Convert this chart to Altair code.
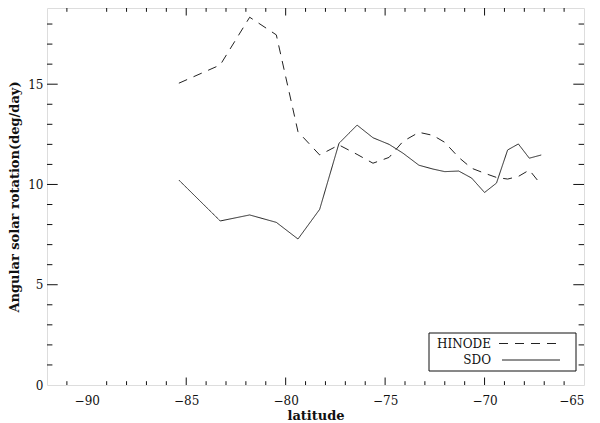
import altair as alt
import pandas as pd

# ---- data ----
latitude = [-85.37, -83.29, -81.81, -80.47, -79.38, -78.29, -77.32, -76.41, -75.61, -74.8,
            -74.1, -73.3, -72.6, -72.0, -71.3, -70.65, -70.0, -69.4, -68.84, -68.3, -67.75, -67.15]
hinode = [15.05, 15.96, 18.34, 17.46, 12.63, 11.47, 11.97, 11.5, 11.06, 11.35,
          12.15, 12.6, 12.45, 12.1, 11.35, 10.81, 10.56, 10.35, 10.27, 10.4, 10.72, 9.98]
sdo = [10.22, 8.18, 8.48, 8.11, 7.28, 8.76, 12.05, 12.96, 12.33, 12.0,
       11.56, 10.96, 10.77, 10.64, 10.67, 10.32, 9.6, 10.07, 11.72, 12.02, 11.31, 11.47]
series_names = ["HINODE", "SDO"]

x_major = [-90, -85, -80, -75, -70, -65]
x_minor = [v for v in range(-91, -65) if v % 5 != 0]
y_major = [0, 5, 10, 15]
y_minor = [v for v in range(1, 19) if v % 5 != 0]

W, H = 537, 377
FONT = "DejaVu Serif"
INK = "#111111"

n = len(latitude)
df = pd.DataFrame({
    "lat": latitude * 2,
    "rot": hinode + sdo,
    "series": [series_names[0]] * n + [series_names[1]] * n,
})

xs = alt.Scale(domain=[-92, -65], nice=False, zero=False)
ys = alt.Scale(domain=[0, 18.8], nice=False, zero=False)

x_axis = alt.Axis(values=x_major, ticks=False, tickSize=0, domain=False, grid=False,
                  title="latitude", labelFont=FONT, labelFontSize=12, labelColor=INK,
                  labelPadding=10, titleFont=FONT, titleFontSize=13, titleFontWeight="bold",
                  titleColor=INK, titlePadding=3)
y_axis = alt.Axis(values=y_major, ticks=False, tickSize=0, domain=False, grid=False,
                  title="Angular solar rotation(deg/day)", labelFont=FONT, labelFontSize=12,
                  labelColor=INK, labelPadding=4, titleFont=FONT, titleFontSize=13,
                  titleFontWeight="bold", titleColor=INK, titlePadding=6)

lines = alt.Chart(df).mark_line(color="#222222", strokeWidth=1).encode(
    x=alt.X("lat:Q", scale=xs, axis=x_axis),
    y=alt.Y("rot:Q", scale=ys, axis=y_axis),
    strokeDash=alt.StrokeDash("series:N",
                              scale=alt.Scale(domain=series_names, range=[[9, 7], [1, 0]]),
                              legend=None),
    detail="series:N",
)

xmaj = pd.DataFrame({"lat": x_major[1:-1]})
xmin = pd.DataFrame({"lat": x_minor})
ymaj = pd.DataFrame({"rot": y_major[1:]})
ymin = pd.DataFrame({"rot": y_minor})

def xticks(d, length):
    bottom = alt.Chart(d).mark_rule(color=INK, strokeWidth=1).encode(
        x=alt.X("lat:Q", scale=xs, axis=x_axis), y=alt.value(H), y2=alt.value(H - length))
    top = alt.Chart(d).mark_rule(color=INK, strokeWidth=1).encode(
        x=alt.X("lat:Q", scale=xs, axis=x_axis), y=alt.value(0), y2=alt.value(length))
    return bottom + top

def yticks(d, length):
    left = alt.Chart(d).mark_rule(color=INK, strokeWidth=1).encode(
        y=alt.Y("rot:Q", scale=ys, axis=y_axis), x=alt.value(0), x2=alt.value(length))
    right = alt.Chart(d).mark_rule(color=INK, strokeWidth=1).encode(
        y=alt.Y("rot:Q", scale=ys, axis=y_axis), x=alt.value(W), x2=alt.value(W - length))
    return left + right

ticks = xticks(xmaj, 7.5) + xticks(xmin, 3.8) + yticks(ymaj, 10.7) + yticks(ymin, 5.4)

# ---- legend box ----
one = pd.DataFrame({"a": [0]})
box = alt.Chart(one).mark_rect(fill="white", stroke=INK, strokeWidth=1).encode(
    x=alt.value(382), x2=alt.value(529), y=alt.value(325), y2=alt.value(363))

legend_layers = [box]
rows_y = [335.5, 352]
line_x = [(452, 512), (455, 513)]
dashes = [[9, 7], [1, 0]]
for name, ry, (lx0, lx1), dsh in zip(series_names, rows_y, line_x, dashes):
    nd = pd.DataFrame({"name": [name]})
    legend_layers.append(
        alt.Chart(nd).mark_text(font=FONT, fontSize=12, align="right", baseline="middle",
                                color=INK).encode(
            text="name:N", x=alt.value(444), y=alt.value(ry)))
    legend_layers.append(
        alt.Chart(nd).mark_rule(color="#222222", strokeWidth=1, strokeDash=dsh).encode(
            x=alt.value(lx0), x2=alt.value(lx1), y=alt.value(ry)))

chart = alt.layer(lines, ticks, *legend_layers).properties(
    width=W, height=H,
    autosize=alt.AutoSizeParams(type="none"),
    padding={"left": 39, "top": 0, "right": 8, "bottom": 38},
).configure_view(stroke=INK, strokeWidth=1).configure(background="white")

chart.save("out.html", embed_options={"renderer": "svg", "actions": False})
